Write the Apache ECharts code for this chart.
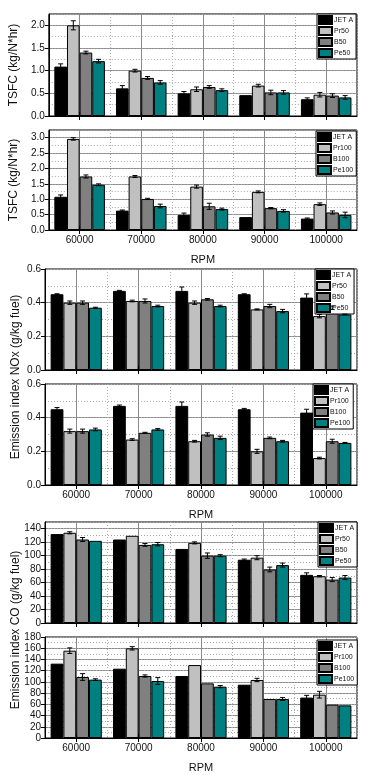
<!DOCTYPE html>
<html>
<head>
<meta charset="utf-8">
<script src="https://cdn.jsdelivr.net/npm/echarts@6/dist/echarts.min.js"></script>
<style>
html,body{margin:0;padding:0;background:#fff;}
#chart{width:370px;height:775px;}
</style>
</head>
<body>
<div id="chart"></div>
<script>
// ---------- DATA ----------
const rpm = ['60000', '70000', '80000', '90000', '100000'];
const names50 = ['JET A', 'Pr50', 'B50', 'Pe50'];
const names100 = ['JET A', 'Pr100', 'B100', 'Pe100'];
const fuelColors = ['#000000', '#c0c0c0', '#808080', '#008080'];

// TSFC (kg/N*hr), 50% blends: rows = JET A, Pr50, B50, Pe50
const tsfc50 = [
  [1.09, 0.61, 0.50, 0.46, 0.37],
  [2.00, 1.00, 0.59, 0.67, 0.47],
  [1.40, 0.84, 0.64, 0.52, 0.45],
  [1.21, 0.74, 0.57, 0.52, 0.41]
];
const tsfc50Err = [
  [0.06, 0.06, 0.04, 0, 0.03],
  [0.10, 0.03, 0.05, 0.03, 0.05],
  [0.03, 0.03, 0.03, 0.05, 0.04],
  [0.04, 0.04, 0.03, 0.04, 0.04]
];
// TSFC, 100% fuels
const tsfc100 = [
  [1.08, 0.63, 0.49, 0.42, 0.37],
  [2.96, 1.74, 1.41, 1.24, 0.84],
  [1.74, 1.01, 0.77, 0.71, 0.57],
  [1.47, 0.78, 0.68, 0.62, 0.49]
];
const tsfc100Err = [
  [0.06, 0.02, 0.06, 0, 0.02],
  [0.04, 0.03, 0.05, 0.03, 0.04],
  [0.05, 0.02, 0.10, 0.02, 0.05],
  [0.03, 0.06, 0.03, 0.04, 0.09]
];
// Emission index NOx (g/kg fuel), 50% blends
const nox50 = [
  [0.45, 0.47, 0.47, 0.45, 0.43],
  [0.40, 0.41, 0.40, 0.36, 0.32],
  [0.40, 0.41, 0.42, 0.38, 0.37],
  [0.37, 0.38, 0.38, 0.35, 0.33]
];
const nox50Err = [
  [0.003, 0.003, 0.023, 0.003, 0.022],
  [0.010, 0.005, 0.010, 0.003, 0.010],
  [0.010, 0.012, 0.005, 0.010, 0.010],
  [0.003, 0.005, 0.005, 0.010, 0.002]
];
// NOx, 100% fuels
const nox100 = [
  [0.45, 0.47, 0.47, 0.45, 0.43],
  [0.32, 0.27, 0.26, 0.20, 0.16],
  [0.32, 0.31, 0.30, 0.28, 0.26],
  [0.33, 0.33, 0.28, 0.26, 0.25]
];
const nox100Err = [
  [0.010, 0.005, 0.023, 0.005, 0.020],
  [0.012, 0.005, 0.005, 0.012, 0.005],
  [0.012, 0.003, 0.010, 0.005, 0.012],
  [0.008, 0.005, 0.010, 0.005, 0.003]
];
// Emission index CO (g/kg fuel), 50% blends
const co50 = [
  [132, 124, 110, 94, 71.5],
  [134, 129.5, 119, 97, 69.5],
  [124, 116, 100, 79.5, 64.5],
  [122, 117, 100, 86, 67.5]
];
const co50Err = [
  [0, 0, 0, 1, 3],
  [1.5, 0, 1.5, 3, 1],
  [3, 2, 4, 3.5, 3],
  [0, 2.5, 1.5, 3, 3]
];
// CO, 100% fuels
const co100 = [
  [132.5, 123.5, 110.5, 95, 72],
  [155.6, 159.8, 130, 103.4, 77.2],
  [108.7, 110.5, 97.4, 69.5, 59.4],
  [104, 101.6, 91.5, 69.5, 58.2]
];
const co100Err = [
  [0, 0, 0, 0, 4],
  [5, 3, 0, 3, 6],
  [6, 2, 0, 0, 0],
  [1.5, 6, 2, 2.5, 0]
];

// y-axis tick settings per panel
const yMaxes = [2.25, 3.25, 0.6, 0.6, 150, 180];
const yIntervals = [0.5, 0.5, 0.2, 0.2, 20, 20];
const yMinorIntervals = [0.25, 0.25, 0.1, 0.1, 10, 10];
const yDecimals = [1, 1, 1, 1, 0, 0];

// ---------- LAYOUT ----------
const panels = [
  { vals: tsfc50, errs: tsfc50Err, names: names50, top: 14, height: 102, legendLeft: 317, legendTop: 14, showX: false, yName: 'TSFC (kg/N*hr)' },
  { vals: tsfc100, errs: tsfc100Err, names: names100, top: 130, height: 100, legendLeft: 316, legendTop: 131, showX: true, yName: 'TSFC (kg/N*hr)' },
  { vals: nox50, errs: nox50Err, names: names50, top: 269, height: 101, legendLeft: 315, legendTop: 269, showX: false, yName: '' },
  { vals: nox100, errs: nox100Err, names: names100, top: 384, height: 101, legendLeft: 313, legendTop: 384, showX: true, yName: '' },
  { vals: co50, errs: co50Err, names: names50, top: 522, height: 101, legendLeft: 318, legendTop: 522, showX: false, yName: '' },
  { vals: co100, errs: co100Err, names: names100, top: 637, height: 101, legendLeft: 317, legendTop: 640, showX: true, yName: '' }
];

const FONT = '"Liberation Sans", Arial, sans-serif';
const CAT_GAP = 0.18;

const grids = [], xAxes = [], yAxes = [], series = [], legends = [];

panels.forEach((p, i) => {
  grids.push({ left: 45, right: 13, top: p.top, height: p.height, show: true, borderColor: '#000', borderWidth: 1, backgroundColor: 'transparent' });
  // category axis (labels, bars)
  xAxes.push({
    type: 'category', gridIndex: i, data: rpm, boundaryGap: true, position: 'bottom',
    axisLine: { lineStyle: { color: '#000', width: 1 } },
    axisTick: { show: true, alignWithLabel: true, length: 4, lineStyle: { color: '#000' } },
    axisLabel: { show: p.showX, fontSize: 10, color: '#111', margin: 5, fontFamily: FONT },
    splitLine: { show: false },
    name: p.showX ? 'RPM' : '', nameLocation: 'middle', nameGap: 24,
    nameTextStyle: { fontSize: 11, color: '#111', fontFamily: FONT }
  });
  // helper value axis for grid lines: dotted at category boundaries, solid at centers
  xAxes.push({
    type: 'value', gridIndex: i, min: 0, max: 5, interval: 1, position: 'top',
    axisLine: { show: false }, axisLabel: { show: false },
    axisTick: { show: false },
    minorTick: { show: true, splitNumber: 2, length: 4, lineStyle: { color: '#000' } },
    splitLine: { show: true, lineStyle: { color: '#aaaaaa', type: [1, 2], width: 1 } },
    minorSplitLine: { show: true, lineStyle: { color: '#8a8a8a', width: 1 } }
  });
  const dec = yDecimals[i];
  yAxes.push({
    type: 'value', gridIndex: i, min: 0, max: yMaxes[i], interval: yIntervals[i],
    axisLine: { show: true, lineStyle: { color: '#000' } },
    axisTick: { show: true, length: 4, lineStyle: { color: '#000' } },
    axisLabel: { fontSize: 10, color: '#111', margin: 4, fontFamily: FONT, showMaxLabel: Math.abs(yMaxes[i] / yIntervals[i] - Math.round(yMaxes[i] / yIntervals[i])) < 1e-6, formatter: v => v.toFixed(dec) },
    splitLine: { show: true, lineStyle: { color: '#8a8a8a', width: 1 } },
    name: p.yName, nameLocation: 'middle', nameGap: 21,
    nameTextStyle: { fontSize: 12, color: '#111', fontFamily: FONT }
  });
  yAxes.push({
    type: 'value', gridIndex: i, min: 0, max: yMaxes[i], interval: yMinorIntervals[i],
    axisLine: { show: false }, axisTick: { show: false }, axisLabel: { show: false },
    splitLine: { show: true, lineStyle: { color: '#aaaaaa', type: [1, 2], width: 1 } }
  });
  const xIdx = i * 2, yIdx = i * 2;
  p.names.forEach((nm, k) => {
    series.push({
      type: 'bar', name: nm, xAxisIndex: xIdx, yAxisIndex: yIdx,
      data: p.vals[k], barGap: '0%', barCategoryGap: (CAT_GAP * 100) + '%',
      itemStyle: { color: fuelColors[k], borderColor: '#000', borderWidth: 1 },
      z: 3
    });
  });
  // error bars
  const errData = [];
  p.vals.forEach((row, k) => row.forEach((v, c) => {
    if (p.errs[k][c] > 0) errData.push([c, k, v, p.errs[k][c]]);
  }));
  series.push({
    type: 'custom', name: 'err' + i, xAxisIndex: xIdx, yAxisIndex: yIdx, z: 5,
    data: errData, encode: { x: 0, y: 2 },
    renderItem: (params, api) => {
      const c = api.value(0), k = api.value(1), v = api.value(2), e = api.value(3);
      const band = api.size([1, 0])[0];
      const gw = band * (1 - CAT_GAP);
      const bw = gw / 4;
      const cx = api.coord([c, 0])[0] - gw / 2 + bw * (k + 0.5);
      const yt = api.coord([c, v + e])[1];
      const yb = api.coord([c, v - e])[1];
      const cap = 2.5;
      const st = { stroke: '#000', lineWidth: 1 };
      return {
        type: 'group', children: [
          { type: 'line', shape: { x1: cx, y1: yt, x2: cx, y2: yb }, style: st },
          { type: 'line', shape: { x1: cx - cap, y1: yt, x2: cx + cap, y2: yt }, style: st },
          { type: 'line', shape: { x1: cx - cap, y1: yb, x2: cx + cap, y2: yb }, style: st }
        ]
      };
    }
  });
  legends.push({
    data: p.names, left: p.legendLeft, top: p.legendTop, orient: 'vertical',
    itemWidth: 13, itemHeight: 8, itemGap: 1, icon: 'rect',
    padding: [1, 3, 1, 1], backgroundColor: '#fff', borderColor: '#000', borderWidth: 1,
    borderRadius: 0, selectedMode: false,
    textStyle: { fontSize: 7, color: '#111', fontFamily: FONT, padding: [0, 0, 0, -3], lineHeight: 8 }
  });
});

const option = {
  animation: false,
  backgroundColor: '#fff',
  grid: grids, xAxis: xAxes, yAxis: yAxes, series: series, legend: legends,
  graphic: [
    { type: 'text', x: 16, y: 377, rotation: Math.PI / 2, style: { text: 'Emission index NOx (g/kg fuel)', font: '12px ' + FONT, fill: '#111', textAlign: 'center', textVerticalAlign: 'middle' } },
    { type: 'text', x: 16, y: 630, rotation: Math.PI / 2, style: { text: 'Emission index CO (g/kg fuel)', font: '12px ' + FONT, fill: '#111', textAlign: 'center', textVerticalAlign: 'middle' } }
  ]
};

const chart = echarts.init(document.getElementById('chart'), null, { renderer: 'canvas' });
chart.setOption(option);
</script>
</body>
</html>
